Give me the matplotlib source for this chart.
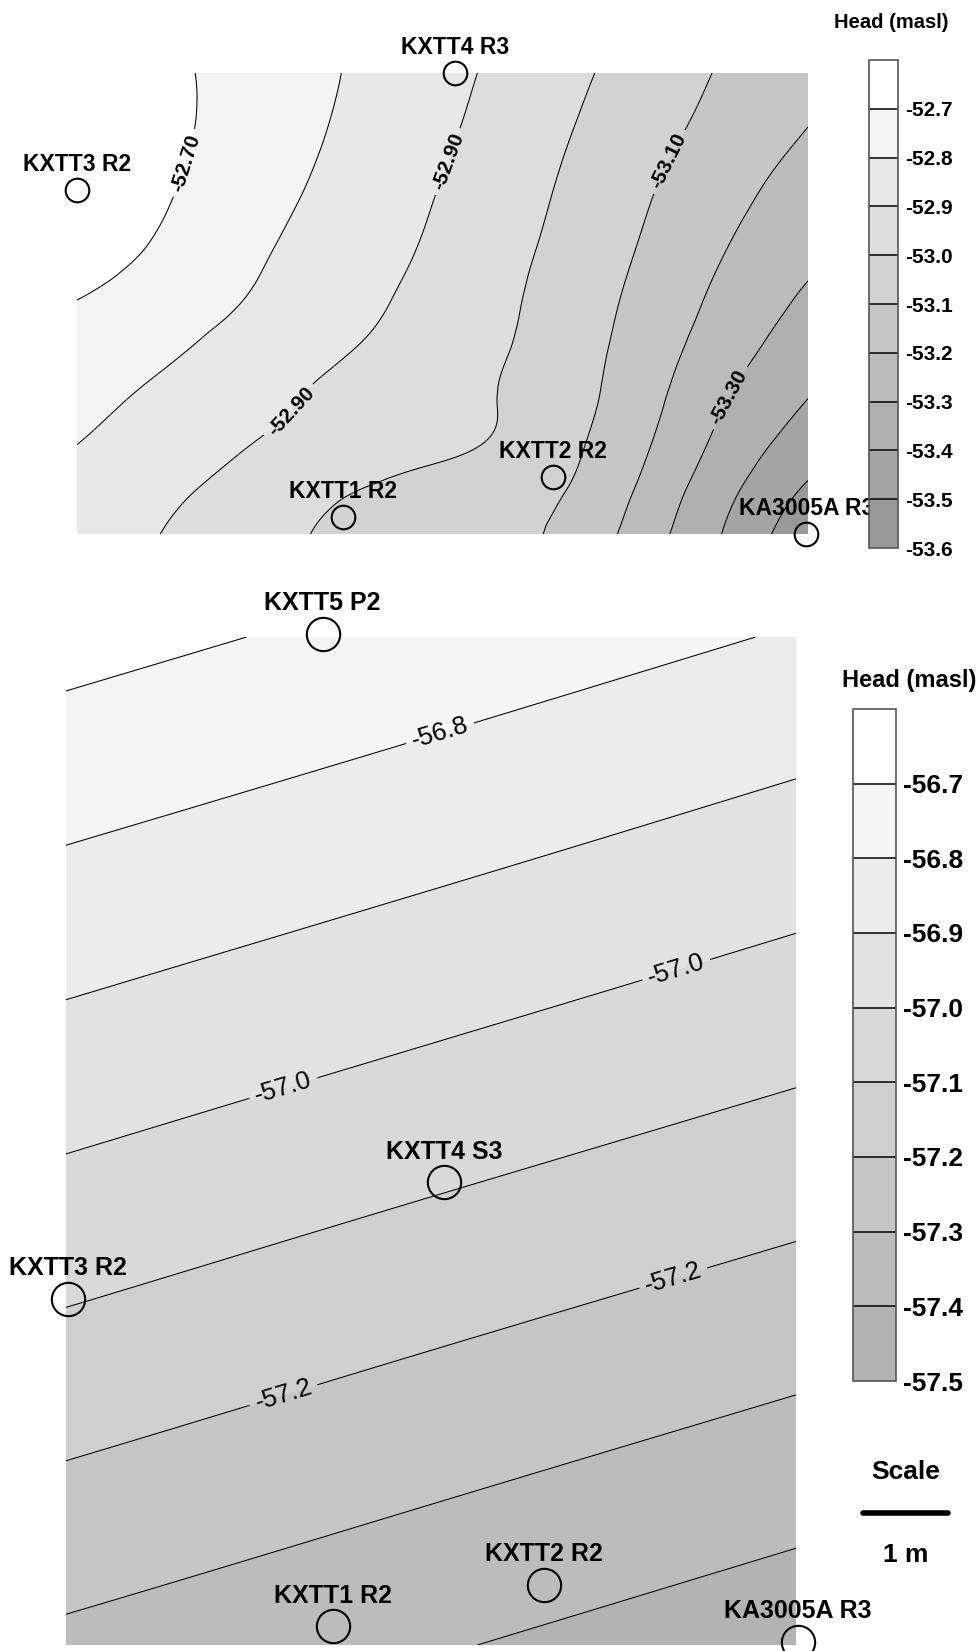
import numpy as np
import matplotlib
matplotlib.use("Agg")
import matplotlib.pyplot as plt
import matplotlib.tri as mtri

plt.rcParams["font.family"] = ["Liberation Sans", "DejaVu Sans"]
plt.rcParams["axes.unicode_minus"] = False

# ---- upper section: head field (masl) on a local grid in metres ----
top_x = [0.0, 0.98, 1.92, 2.86, 3.80, 4.74, 5.68, 6.62, 7.56, 8.6]
top_y = [0.0, 0.52, 1.05, 1.58, 2.16, 2.75, 3.34, 4.05, 4.75, 5.42]
top_head = [
    [-52.861, -52.900, -52.954, -53.005, -53.038, -53.071, -53.115, -53.242, -53.396, -53.572],
    [-52.830, -52.879, -52.928, -52.979, -53.021, -53.057, -53.094, -53.211, -53.363, -53.514],
    [-52.800, -52.848, -52.894, -52.930, -52.964, -52.999, -53.071, -53.180, -53.322, -53.449],
    [-52.769, -52.820, -52.866, -52.911, -52.950, -52.988, -53.057, -53.158, -53.288, -53.401],
    [-52.735, -52.784, -52.832, -52.880, -52.928, -52.977, -53.046, -53.141, -53.250, -53.357],
    [-52.700, -52.750, -52.798, -52.852, -52.906, -52.965, -53.035, -53.124, -53.219, -53.316],
    [-52.649, -52.713, -52.775, -52.833, -52.888, -52.952, -53.022, -53.105, -53.193, -53.275],
    [-52.630, -52.688, -52.750, -52.812, -52.871, -52.935, -53.006, -53.084, -53.163, -53.241],
    [-52.620, -52.675, -52.735, -52.795, -52.854, -52.917, -52.988, -53.060, -53.130, -53.202],
    [-52.630, -52.677, -52.731, -52.785, -52.843, -52.902, -52.970, -53.038, -53.106, -53.169],
]
top_levels = [-53.6, -53.5, -53.4, -53.3, -53.2, -53.1, -53.0, -52.9, -52.8, -52.7, -52.6]
top_labelled = [-53.3, -53.1, -52.9, -52.7]
top_label_pos = [(1.27, 4.36), (4.41, 4.36), (2.48, 1.46), (7.0, 4.36), (7.66, 1.61)]
top_wells = ["KXTT3 R2", "KXTT4 R3", "KXTT1 R2", "KXTT2 R2", "KA3005A R3"]
top_wells_x = [0.0, 4.45, 3.13, 5.60, 8.58]
top_wells_y = [4.04, 5.42, 0.20, 0.67, 0.0]

# ---- lower section ----
bot_x = [0.0, 4.3, 8.59]
bot_y = [0.0, 3.0, 6.0, 9.0, 11.87]
bot_head = [
    [-57.320, -57.391, -57.463],
    [-57.154, -57.226, -57.297],
    [-56.988, -57.060, -57.131],
    [-56.823, -56.894, -56.966],
    [-56.665, -56.736, -56.808],
]
bot_levels = [-57.5, -57.4, -57.3, -57.2, -57.1, -57.0, -56.9, -56.8, -56.7, -56.6]
bot_labelled = [-57.2, -57.0, -56.8]
bot_label_pos = [(4.4, 10.74), (7.19, 7.92), (2.56, 6.55), (7.15, 4.31), (2.56, 2.94)]
bot_wells = ["KXTT5 P2", "KXTT4 S3", "KXTT3 R2", "KXTT2 R2", "KXTT1 R2", "KA3005A R3"]
bot_wells_x = [3.02, 4.45, 0.02, 5.62, 3.14, 8.61]
bot_wells_y = [11.91, 5.45, 4.08, 0.71, 0.22, 0.04]

scale_len = 1.0  # m

W, H = 976, 1651
fig = plt.figure(figsize=(W / 100, H / 100), dpi=100)


def px_axes(left, top, right, bottom):
    return fig.add_axes([left / W, 1 - bottom / H, (right - left) / W, (bottom - top) / H])


def head_map(ax, cax, xs, ys, zz, levels, gray_end, labelled, label_pos, fmt,
             lab_size, lab_weight, cb_size):
    X, Y = np.meshgrid(xs, ys)
    tri = mtri.Triangulation(X.ravel(), Y.ravel())
    tri_r, z_r = mtri.UniformTriRefiner(tri).refine_field(np.asarray(zz).ravel(), subdiv=4)
    z_r = np.clip(z_r, levels[0] + 1e-4, levels[-1] - 1e-4)
    n = len(levels) - 1
    greys = [str(g) for g in np.linspace(gray_end, 1.0, n)]
    cf = ax.tricontourf(tri_r, z_r, levels=levels, colors=greys)
    plain = [lv for lv in levels[1:-1] if lv not in labelled]
    ax.tricontour(tri_r, z_r, levels=plain, colors="black", linewidths=0.75,
                  linestyles="solid")
    cs = ax.tricontour(tri_r, z_r, levels=labelled, colors="black", linewidths=0.75,
                       linestyles="solid")
    lab = ax.clabel(cs, manual=label_pos, inline=True, fmt=fmt,
                    fontsize=lab_size, inline_spacing=6)
    for t in lab:
        t.set_fontweight(lab_weight)
    ax.set_xlim(xs[0], xs[-1])
    ax.set_ylim(ys[0], ys[-1])
    ax.set_axis_off()

    cb = fig.colorbar(cf, cax=cax, drawedges=True)
    ticks = levels[:-1]
    cb.ax.set_yticks(ticks, labels=[f"{v:.1f}" for v in ticks],
                     fontsize=cb_size, fontweight="bold")
    cb.ax.tick_params(length=0, pad=5)
    cb.outline.set_edgecolor("#555555")
    cb.outline.set_linewidth(1.2)
    cb.dividers.set_color("black")
    cb.dividers.set_linewidth(1.1)
    return cf


def wells(ax, names, xs, ys, ms, off, size):
    ax.plot(xs, ys, "o", ms=ms, mfc="none", mec="black", mew=1.5, clip_on=False, zorder=6)
    for name, x, y in zip(names, xs, ys):
        ax.annotate(name, (x, y), xytext=(0, off), textcoords="offset points",
                    ha="center", va="center", fontsize=size, fontweight="bold",
                    annotation_clip=False, zorder=7)


# upper map
ax1 = px_axes(77, 73, 808, 534)
cax1 = px_axes(869, 60, 898, 548)
head_map(ax1, cax1, top_x, top_y, top_head, top_levels, 0.60, top_labelled,
         top_label_pos, "%.2f", 15, "bold", 15)
wells(ax1, top_wells, top_wells_x, top_wells_y, 17, 18.5, 16.5)
fig.text(891 / W, 1 - 22 / H, "Head (masl)", ha="center", va="center",
         fontsize=14.5, fontweight="bold")

# lower map
ax2 = px_axes(66, 637, 796, 1645)
cax2 = px_axes(853, 709, 896, 1381)
head_map(ax2, cax2, bot_x, bot_y, bot_head, bot_levels, 0.70, bot_labelled,
         bot_label_pos, "%.1f", 18.5, "medium", 19)
wells(ax2, bot_wells, bot_wells_x, bot_wells_y, 24, 22, 18)
fig.text(909 / W, 1 - 681 / H, "Head (masl)", ha="center", va="center",
         fontsize=17, fontweight="bold")

# scale bar drawn in the lower map's own metres
sx0, sy = 9.38, 1.56
ax2.plot([sx0, sx0 + scale_len], [sy, sy], color="black", lw=4, solid_capstyle="round",
         clip_on=False)
ax2.text(sx0 + scale_len / 2, sy + 0.48, "Scale", ha="center", va="center",
         fontsize=19, fontweight="bold", clip_on=False)
ax2.text(sx0 + scale_len / 2, sy - 0.5, "1 m", ha="center", va="center",
         fontsize=19, fontweight="bold", clip_on=False)

fig.savefig("out.png", dpi=100)
